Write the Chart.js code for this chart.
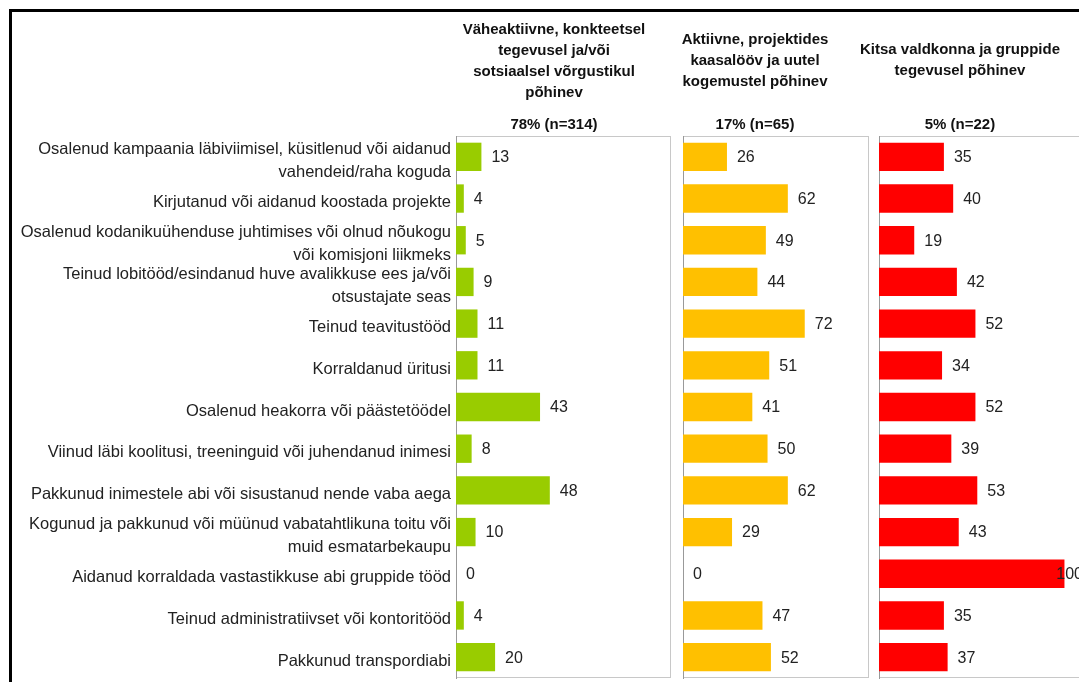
<!DOCTYPE html>
<html>
<head>
<meta charset="utf-8">
<script src="https://cdn.jsdelivr.net/npm/chart.js@4"></script>
<style>
body { margin: 0; width: 1079px; height: 682px; overflow: hidden; background: #fff; position: relative; font-family: "Liberation Sans", Arial, sans-serif; }
.frame { position: absolute; left: 9px; top: 9px; width: 1200px; height: 800px; border-left: 3px solid #000; border-top: 3px solid #000; }
canvas { position: absolute; top: 0; }
.head { position: absolute; width: 260px; text-align: center; font-weight: bold; font-size: 15px; line-height: 21px; color: #111; }
</style>
</head>
<body>
<div class="frame"></div>
<canvas id="c1" width="673" height="682" style="left:0px"></canvas>
<canvas id="c2" width="200" height="682" style="left:673px"></canvas>
<canvas id="c3" width="220" height="682" style="left:873px"></canvas>
<script>
// andmed
const categories = [
    ['Osalenud kampaania läbiviimisel, küsitlenud või aidanud', 'vahendeid/raha koguda'],
    'Kirjutanud või aidanud koostada projekte',
    ['Osalenud kodanikuühenduse juhtimises või olnud nõukogu', 'või komisjoni liikmeks'],
    ['Teinud lobitööd/esindanud huve avalikkuse ees ja/või', 'otsustajate seas'],
    'Teinud teavitustööd',
    'Korraldanud üritusi',
    'Osalenud heakorra või päästetöödel',
    'Viinud läbi koolitusi, treeninguid või juhendanud inimesi',
    'Pakkunud inimestele abi või sisustanud nende vaba aega',
    ['Kogunud ja pakkunud või müünud vabatahtlikuna toitu või', 'muid esmatarbekaupu'],
    'Aidanud korraldada vastastikkuse abi gruppide tööd',
    'Teinud administratiivset või kontoritööd',
    'Pakkunud transpordiabi'
];
const lessActive = [13, 4, 5, 9, 11, 11, 43, 8, 48, 10, 0, 4, 20];
const active = [26, 62, 49, 44, 72, 51, 41, 50, 62, 29, 0, 47, 52];
const narrowField = [35, 40, 19, 42, 52, 34, 52, 39, 53, 43, 100, 35, 37];

const groupTitles = [
    ['Väheaktiivne, konkteetsel', 'tegevusel ja/või', 'sotsiaalsel võrgustikul', 'põhinev'],
    ['Aktiivne, projektides', 'kaasalööv ja uutel', 'kogemustel põhinev'],
    ['Kitsa valdkonna ja gruppide', 'tegevusel põhinev']
];
const groupShares = ['78% (n=314)', '17% (n=65)', '5% (n=22)'];

// pealkirjade asukohad
const headCenters = [554, 755, 960];
const headTops = [18, 28, 38];
groupTitles.forEach((lines, i) => {
    const t = document.createElement('div');
    t.className = 'head';
    t.style.left = (headCenters[i] - 130) + 'px';
    t.style.top = headTops[i] + 'px';
    t.innerHTML = lines.join('<br>');
    document.body.appendChild(t);
    const s = document.createElement('div');
    s.className = 'head';
    s.style.left = (headCenters[i] - 130) + 'px';
    s.style.top = '113px';
    s.textContent = groupShares[i];
    document.body.appendChild(s);
});

const fontFamily = '"Liberation Sans", Arial, sans-serif';

// paneeli raam
const panelBox = {
    id: 'panelBox',
    beforeDraw(chart) {
        const a = chart.chartArea;
        const ctx = chart.ctx;
        ctx.save();
        ctx.strokeStyle = '#c8c8c8';
        ctx.lineWidth = 1;
        ctx.strokeRect(a.left + 0.5, a.top + 0.5, a.right - a.left - 1, a.bottom - a.top - 1);
        ctx.restore();
    }
};

// väärtused tulpade kõrval
const valueLabels = {
    id: 'valueLabels',
    afterDatasetsDraw(chart) {
        const ctx = chart.ctx;
        const area = chart.chartArea;
        const values = chart.data.datasets[0].data;
        ctx.save();
        ctx.font = '16px ' + fontFamily;
        ctx.fillStyle = '#222';
        ctx.textBaseline = 'middle';
        chart.getDatasetMeta(0).data.forEach((bar, i) => {
            const txt = String(values[i]);
            const w = ctx.measureText(txt).width;
            const x = Math.min(bar.x + 10, area.right - w);
            ctx.fillText(txt, x, bar.y + 1);
        });
        ctx.restore();
    }
};

function makePanel(id, values, color, padding, axisWidth, showLabels) {
    return new Chart(document.getElementById(id), {
        type: 'bar',
        data: {
            labels: categories,
            datasets: [{
                data: values,
                backgroundColor: color,
                barPercentage: 0.68,
                categoryPercentage: 1
            }]
        },
        options: {
            indexAxis: 'y',
            responsive: false,
            animation: false,
            devicePixelRatio: 1,
            layout: { padding: padding },
            plugins: {
                legend: { display: false },
                tooltip: { enabled: false }
            },
            scales: {
                x: { display: false, min: 0, max: 110 },
                y: {
                    grid: { display: false, drawTicks: false },
                    border: { display: true, color: '#999' },
                    ticks: {
                        display: showLabels,
                        autoSkip: false,
                        padding: 5,
                        labelOffset: 4,
                        color: '#222',
                        font: { size: 16.5, family: fontFamily, lineHeight: 1.4 }
                    },
                    afterFit(scale) {
                        scale.width = axisWidth;
                        scale.paddingTop = 0;
                        scale.paddingBottom = 0;
                    }
                }
            }
        },
        plugins: [panelBox, valueLabels]
    });
}

makePanel('c1', lessActive, '#99cc00', { top: 136, bottom: 4, left: 0, right: 2 }, 456, true);
makePanel('c2', active, '#ffc000', { top: 136, bottom: 4, left: 10, right: 4 }, 0, false);
makePanel('c3', narrowField, '#ff0000', { top: 136, bottom: 4, left: 6, right: 10 }, 0, false);
</script>
</body>
</html>
